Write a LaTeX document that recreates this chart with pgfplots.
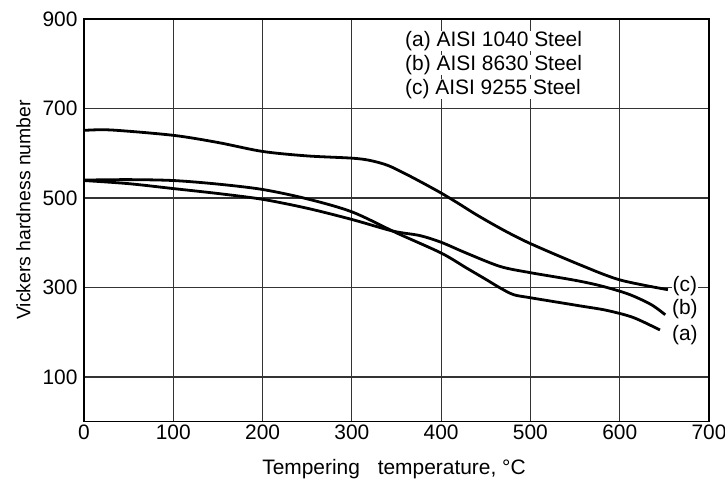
\documentclass[border=0pt]{standalone}
\usepackage{fontspec}
\setmainfont{Liberation Sans}
\usepackage{pgfplots}
\pgfplotsset{compat=1.18}

\begin{document}
\begin{tikzpicture}
\begin{axis}[
    scale only axis,
    width=625bp, height=402.7bp,
    xmin=0, xmax=700, ymin=0, ymax=900,
    xtick={0,100,...,700},
    ytick={100,300,500,700,900},
    grid=major,
    major grid style={line width=1.1bp, black!80},
    axis line style={line width=1.4bp, black},
    major tick length=0pt,
    font=\fontsize{21}{24.5}\selectfont,
    tick label style={font=\fontsize{21}{24.5}\selectfont},
    yticklabel style={xshift=-3bp},
    /pgf/number format/assume math mode=true,
    xlabel={Tempering\hspace{0.85em}temperature, °C},
    xlabel style={at={(axis description cs:0.496,-0.130)}, anchor=base},
    ylabel={Vickers hardness number},
    ylabel style={at={(axis description cs:-0.0968,0.526)}, anchor=center,
                  font=\fontsize{19.5}{23}\selectfont},
    clip=false,
]
% (c) AISI 9255
\addplot[black, line width=2.8bp, smooth, tension=0.5] coordinates {
    (0,651) (30,652) (100,640) (150,624) (200,604) (250,594) (300,589)
    (320,584) (340,573) (360,554) (380,533) (400,511) (420,487) (440,462)
    (470,428) (500,398) (555,351) (600,317) (654,295)};
% (b) AISI 8630
\addplot[black, line width=2.8bp, smooth, tension=0.5] coordinates {
    (0,539) (50,532) (100,521) (150,510) (200,497) (250,477) (300,452)
    (346,426) (376,416) (400,401) (428,377) (466,347) (500,333) (550,316)
    (580,303) (610,285) (635,262) (651,239)};
% (a) AISI 1040
\addplot[black, line width=2.8bp, smooth, tension=0.5] coordinates {
    (0,540) (50,541) (100,539) (150,531) (200,519) (250,498) (300,469)
    (350,422) (400,377) (428,344) (451,317) (466,299) (481,284) (500,277)
    (555,259) (585,249) (615,233) (645,205)};

\node[anchor=west, fill=white, inner xsep=0pt, inner ysep=0pt] at (axis cs:359.5,850.6) {(a) AISI 1040 Steel};
\node[anchor=west, fill=white, inner xsep=0pt, inner ysep=0pt] at (axis cs:359.5,796.8) {(b) AISI 8630 Steel};
\node[anchor=west, fill=white, inner xsep=0pt, inner ysep=0pt] at (axis cs:359.5,743.0) {(c) AISI 9255 Steel};

\node[fill=white, inner xsep=1pt, inner ysep=0pt] at (axis cs:673,302) {(c)};
\node[fill=white, inner xsep=1pt, inner ysep=0pt] at (axis cs:673,251.7) {(b)};
\node[fill=white, inner xsep=1pt, inner ysep=0pt] at (axis cs:673,193.8) {(a)};
\end{axis}
\pgfresetboundingbox
\path ([shift={(-84bp,-59.3bp)}]current axis.south west) rectangle ([shift={(16bp,19bp)}]current axis.north east);
\end{tikzpicture}
\end{document}
